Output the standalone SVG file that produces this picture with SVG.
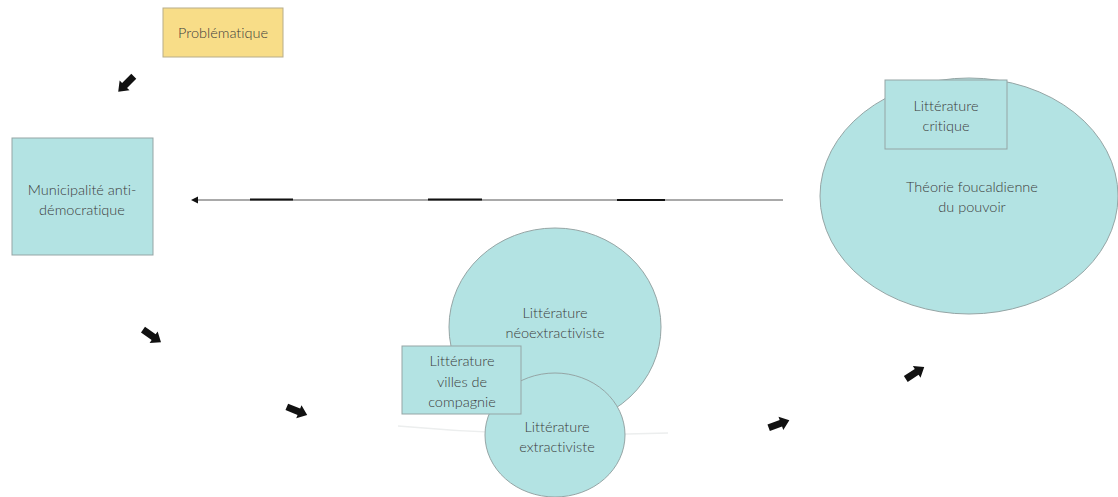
<svg xmlns="http://www.w3.org/2000/svg" width="1118" height="497" viewBox="0 0 1118 497">
<style>
.box{fill:#B3E3E3;stroke:#95A5A5;stroke-width:1}
.yel{fill:#F8DD88;stroke:#B8AD8A;stroke-width:1}
.t{font-family:Lato,"Open Sans","Liberation Sans",sans-serif;font-size:14.5px;font-weight:300;fill:#3c3c3c;text-anchor:middle;font-variant-ligatures:none}
.blk{fill:#111}
</style>
<defs>
<path id="barrow" d="M-11,-3.5 L2,-3.5 L2,-7 L11,0 L2,7 L2,3.5 L-11,3.5 Z"/>
</defs>
<rect width="1118" height="497" fill="#fff"/>
<g id="connectors">
<line x1="783" y1="200" x2="198" y2="200" stroke="#555" stroke-width="1"/>
<path d="M198,196.5 L191,200 L198,203.5 Z" fill="#111"/>
<line x1="250" y1="199.5" x2="293" y2="199.5" stroke="#111" stroke-width="1.8"/>
<line x1="428" y1="199.5" x2="482" y2="199.5" stroke="#111" stroke-width="1.8"/>
<line x1="617" y1="200" x2="665" y2="200" stroke="#111" stroke-width="1.8"/>
<use href="#barrow" class="blk" transform="translate(126,84) rotate(135)"/>
<use href="#barrow" class="blk" transform="translate(152,336) rotate(35)"/>
<use href="#barrow" class="blk" transform="translate(297,411) rotate(22)"/>
<use href="#barrow" class="blk" transform="translate(779,424) rotate(-20)"/>
<use href="#barrow" class="blk" transform="translate(915,373) rotate(-33)"/>
</g>
<path d="M398,426 Q530,438 668,433" fill="none" stroke="#eceeee" stroke-width="1.5"/>
<g id="problematique">
<rect class="yel" x="163" y="8" width="120" height="49"/>
<text class="t" x="223" y="38">Problématique</text>
</g>
<g id="municipalite">
<rect class="box" x="12" y="138" width="141" height="117"/>
<text class="t" x="82" y="195">Municipalité anti-</text>
<text class="t" x="82" y="215">démocratique</text>
</g>
<g id="theorie">
<ellipse class="box" cx="969" cy="196" rx="149" ry="118"/>
<text class="t" x="972" y="192">Théorie foucaldienne</text>
<text class="t" x="972" y="212">du pouvoir</text>
</g>
<g id="critique">
<rect class="box" x="885" y="80" width="122" height="69"/>
<text class="t" x="946" y="111">Littérature</text>
<text class="t" x="946" y="131">critique</text>
</g>
<g id="neoextractiviste">
<ellipse class="box" cx="555" cy="327" rx="106" ry="99"/>
<text class="t" x="555" y="318">Littérature</text>
<text class="t" x="555" y="338">néoextractiviste</text>
</g>
<g id="extractiviste">
<ellipse class="box" cx="555" cy="435" rx="70" ry="62"/>
<text class="t" x="557" y="432">Littérature</text>
<text class="t" x="557" y="452">extractiviste</text>
</g>
<g id="villes">
<rect class="box" x="402" y="346" width="119" height="68"/>
<text class="t" x="462" y="366">Littérature</text>
<text class="t" x="462" y="387">villes de</text>
<text class="t" x="462" y="407">compagnie</text>
</g>
</svg>
